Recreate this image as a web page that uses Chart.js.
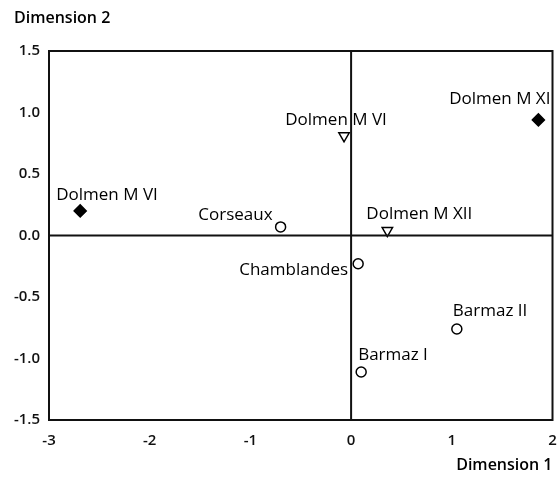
<!DOCTYPE html>
<html>
<head>
<meta charset="utf-8">
<script src="https://cdn.jsdelivr.net/npm/chart.js@4/dist/chart.umd.min.js"></script>
<style>
  html, body { margin: 0; padding: 0; background: #fff; }
  #wrap { width: 560px; height: 478px; }
</style>
</head>
<body>
<div id="wrap"><canvas id="plot"></canvas></div>
<script>
// sites on the first two dimensions
const siteNames = ['Dolmen M VI', 'Corseaux', 'Dolmen M VI', 'Dolmen M XI', 'Dolmen M XII', 'Chamblandes', 'Barmaz II', 'Barmaz I'];
const dim1 = [-2.69, -0.70, -0.07, 1.86, 0.36, 0.07, 1.05, 0.10];
const dim2 = [0.20, 0.07, 0.81, 0.94, 0.04, -0.23, -0.76, -1.11];
const siteGroup = ['diamond', 'circle', 'triangle', 'diamond', 'triangle', 'circle', 'circle', 'circle'];

const xTicks = [-3, -2, -1, 0, 1, 2];
const yTicks = [-1.5, -1.0, -0.5, 0.0, 0.5, 1.0, 1.5];

// label placement next to each marker: [dx, dy, align]
const labelPlace = [
    [-24, -16, 'left'],
    [-8, -12, 'right'],
    [-8, -16, 'center'],
    [12, -21, 'right'],
    [-21, -16, 'left'],
    [-10, 6, 'right'],
    [-4, -18, 'left'],
    [-3, -17, 'left']
];

const FONT = '"Open Sans", sans-serif';

const markerStyle = {
    diamond: { pointStyle: 'rectRot', radius: 6, bg: '#000', border: '#000' },
    circle: { pointStyle: 'circle', radius: 5, bg: '#fff', border: '#000' },
    triangle: { pointStyle: 'triangle', radius: 6, bg: '#fff', border: '#000', rotation: 180 }
};

const points = dim1.map((x, i) => ({ x: x, y: dim2[i] }));

const framePlugin = {
    id: 'frame',
    afterDatasetsDraw(chart) {
        const { ctx, chartArea: a, scales } = chart;
        ctx.save();
        ctx.strokeStyle = '#111';
        ctx.lineWidth = 2;
        ctx.strokeRect(a.left, a.top, a.right - a.left, a.bottom - a.top);
        const x0 = scales.x.getPixelForValue(0);
        const y0 = scales.y.getPixelForValue(0);
        ctx.beginPath();
        ctx.moveTo(x0, a.top);
        ctx.lineTo(x0, a.bottom);
        ctx.moveTo(a.left, y0);
        ctx.lineTo(a.right, y0);
        ctx.stroke();
        ctx.restore();
    },
    afterDraw(chart) {
        const { ctx, chartArea: a } = chart;
        const meta = chart.getDatasetMeta(0);
        ctx.save();
        ctx.fillStyle = '#000';
        ctx.font = '17px ' + FONT;
        ctx.textBaseline = 'middle';
        meta.data.forEach((el, i) => {
            const p = labelPlace[i];
            ctx.textAlign = p[2];
            ctx.fillText(siteNames[i], el.x + p[0], el.y + p[1]);
        });
        // axis titles
        ctx.font = '600 16px ' + FONT;
        ctx.textAlign = 'left';
        ctx.fillText('Dimension 2', 14, 18);
        ctx.textAlign = 'right';
        ctx.fillText('Dimension 1', a.right, 465);
        ctx.restore();
    }
};

new Chart(document.getElementById('plot'), {
    type: 'scatter',
    data: {
        datasets: [{
            data: points,
            pointStyle: siteGroup.map(g => markerStyle[g].pointStyle),
            pointRadius: siteGroup.map(g => markerStyle[g].radius),
            pointBackgroundColor: siteGroup.map(g => markerStyle[g].bg),
            pointBorderColor: siteGroup.map(g => markerStyle[g].border),
            pointRotation: siteGroup.map(g => markerStyle[g].rotation || 0),
            pointBorderWidth: 1.5
        }]
    },
    options: {
        responsive: true,
        maintainAspectRatio: false,
        animation: false,
        events: [],
        layout: { padding: { top: 51, right: 7, left: 0, bottom: 0 } },
        plugins: {
            legend: { display: false },
            tooltip: { enabled: false }
        },
        scales: {
            x: {
                type: 'linear',
                min: -3,
                max: 2,
                afterBuildTicks: s => { s.ticks = xTicks.map(v => ({ value: v })); },
                afterFit: s => { s.height = 58; s.paddingLeft = 0; s.paddingRight = 0; },
                grid: { display: false, drawTicks: false },
                border: { display: false },
                ticks: {
                    color: '#111',
                    padding: 12,
                    maxRotation: 0,
                    font: { family: FONT, size: 15, weight: '600' },
                    callback: v => String(v)
                }
            },
            y: {
                type: 'linear',
                min: -1.5,
                max: 1.5,
                afterBuildTicks: s => { s.ticks = yTicks.map(v => ({ value: v })); },
                afterFit: s => { s.width = 49; },
                grid: { display: false, drawTicks: false },
                border: { display: false },
                ticks: {
                    color: '#111',
                    padding: 9,
                    font: { family: FONT, size: 15, weight: '600' },
                    callback: v => Number(v).toFixed(1)
                }
            }
        }
    },
    plugins: [framePlugin]
});
</script>
</body>
</html>
